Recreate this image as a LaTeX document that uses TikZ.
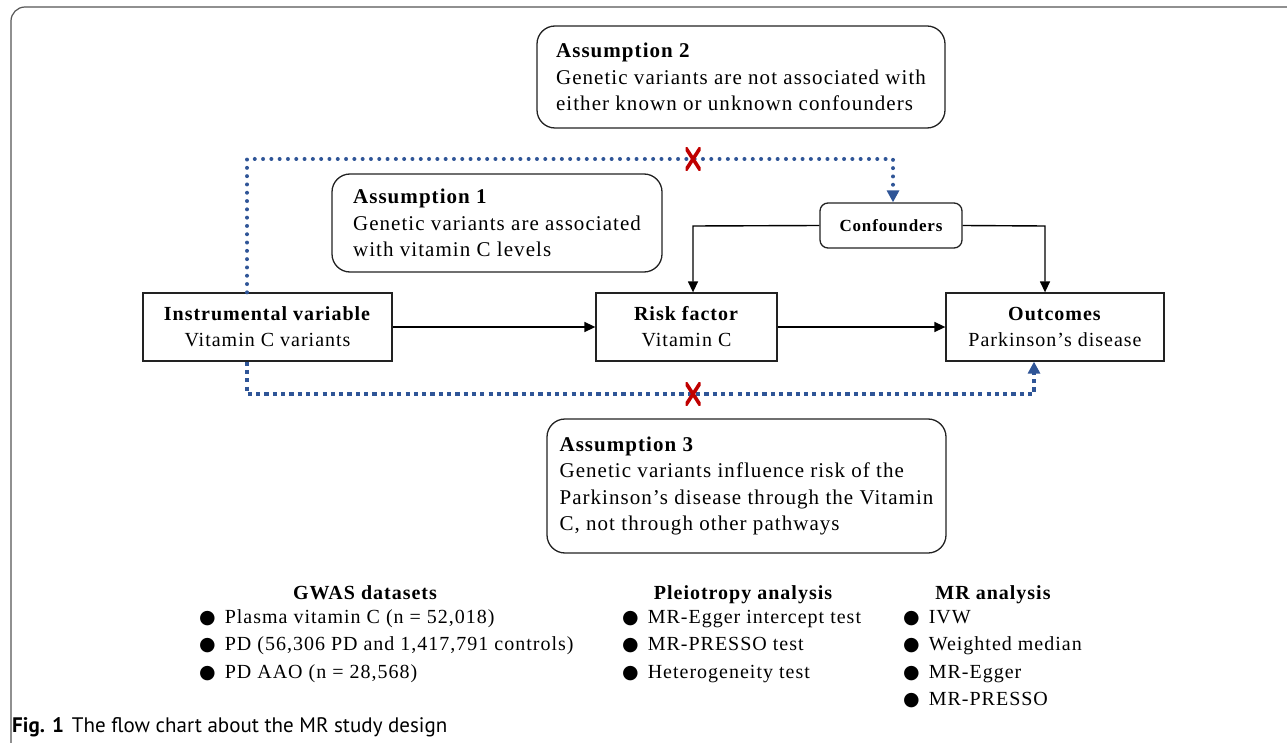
\documentclass[tikz,border=0pt]{standalone}
\usepackage{fontspec}
\setmainfont{Liberation Serif}[LetterSpace=5]
\newfontfamily\bulfont{DejaVu Sans}
\newfontfamily\capfont{PT Sans}
\usetikzlibrary{arrows.meta,calc}
\definecolor{dotblue}{HTML}{2F5597}
\definecolor{xred}{HTML}{C00000}
\definecolor{framec}{HTML}{222222}
\definecolor{outerc}{HTML}{555555}
\newcommand{\bul}{{\bulfont\fontsize{19}{24}\selectfont ●}\hspace{9pt}}
\begin{document}
\begin{tikzpicture}[x=1pt,y=-1pt,
  box/.style={draw=framec, line width=1.3pt, align=center, inner sep=0pt,
    font=\fontsize{20}{26}\selectfont},
  assum/.style={draw=framec, line width=1.3pt, rounded corners=18pt, align=left,
    inner sep=0pt, font=\fontsize{21}{26.5}\selectfont},
  confbox/.style={draw=framec, line width=1.3pt, rounded corners=8pt, inner sep=0pt,
    font=\fontsize{17}{20}\selectfont\bfseries},
  blk/.style={draw=black, line width=1.4pt, -{Triangle[length=11pt,width=10pt]}},
  dotround/.style={draw=dotblue, line width=4pt, line cap=round, dash pattern=on 0pt off 8.3pt,
    -{Triangle[length=12pt,width=12pt]}},
  dotsquare/.style={draw=dotblue, line width=4pt, dash pattern=on 4.2pt off 4.1pt,
    -{Triangle[length=12pt,width=12pt]}},
  xmark/.style={minimum width=15pt, minimum height=23pt, inner sep=0pt,
    path picture={\draw[xred,line width=3.6pt]
      (path picture bounding box.north west) -- (path picture bounding box.south east)
      (path picture bounding box.south west) -- (path picture bounding box.north east);}},
  head/.style={anchor=base, inner sep=0pt, font=\fontsize{20}{24}\selectfont\bfseries},
  item/.style={anchor=base west, inner sep=0pt, font=\fontsize{20}{24}\selectfont},
  framel/.style={draw=outerc, line width=1.2pt, rounded corners=14pt}
]
\useasboundingbox (0,0) rectangle (1287,743);
\draw[framel] (11,745) -- (11,7) -- (1290,7);

% assumption boxes
\node[assum, minimum width=408pt, minimum height=102pt] (a2) at (741,77)
  {\textbf{Assumption 2}\\Genetic variants are not associated with\\either known or unknown confounders};
\node[assum, minimum width=330pt, minimum height=98pt] (a1) at (497,223)
  {\textbf{Assumption 1}\\Genetic variants are associated\\with vitamin C levels};
\node[assum, minimum width=399pt, minimum height=134pt] (a3) at (746.5,486)
  {\textbf{Assumption 3}\\Genetic variants influence risk of the\\Parkinson’s disease through the Vitamin\\C, not through other pathways};

% main boxes
\node[box, minimum width=249pt, minimum height=68pt] (iv) at (267.5,327)
  {\textbf{Instrumental variable}\\Vitamin C variants};
\node[box, minimum width=181pt, minimum height=68pt] (rf) at (686.5,327)
  {\textbf{Risk factor}\\Vitamin C};
\node[box, minimum width=218pt, minimum height=68pt] (out) at (1055,327)
  {\textbf{Outcomes}\\Parkinson’s disease};
\node[confbox, minimum width=142pt, minimum height=45pt] (conf) at (891,225.5) {Confounders};

% black connectors
\draw[blk] (iv.east) -- (rf.west);
\draw[blk] (rf.east) -- (out.west);
\coordinate (cl) at (693,226);
\coordinate (cr) at (1045,226);
\draw[blk] (conf.west) -- (cl) -- (rf.north -| cl);
\draw[blk] (conf.east) -- (cr) -- (out.north -| cr);

% blue dotted connectors
\coordinate (tl) at (247,159);
\coordinate (tr) at (893,159);
\coordinate (bl) at (247,394);
\coordinate (br) at (1034,394);
\draw[dotround] (iv.north -| tl) -- (tl) -- (tr) -- (conf.north -| tr);
\draw[dotsquare] (iv.south -| bl) -- (bl) -- (br) -- (out.south -| br);
\node[xmark] (x1) at (693,159) {};
\node[xmark] (x2) at (693,394) {};

% lists
\node[head] (gh) at (365,599) {GWAS datasets};
\node[item] (g1) at (199,623) {\bul Plasma vitamin C (n = 52,018)};
\node[item] (g2) at (199,650.5) {\bul PD (56,306 PD and 1,417,791 controls)};
\node[item] (g3) at (199,678) {\bul PD AAO (n = 28,568)};

\node[head] (ph) at (743,599) {Pleiotropy analysis};
\node[item] (p1) at (622,623) {\bul MR-Egger intercept test};
\node[item] (p2) at (622,650.5) {\bul MR-PRESSO test};
\node[item] (p3) at (622,678) {\bul Heterogeneity test};

\node[head] (mh) at (993,599) {MR analysis};
\node[item] (m1) at (903,623) {\bul IVW};
\node[item] (m2) at (903,650.5) {\bul Weighted median};
\node[item] (m3) at (903,678) {\bul MR-Egger};
\node[item] (m4) at (903,705) {\bul MR-PRESSO};

% caption
\node[anchor=base west, inner sep=0pt] (cap) at (12,732)
  {\capfont\fontsize{21}{24}\selectfont\textbf{Fig. 1}\hspace{8pt}The flow chart about the MR study design};
\end{tikzpicture}
\end{document}
